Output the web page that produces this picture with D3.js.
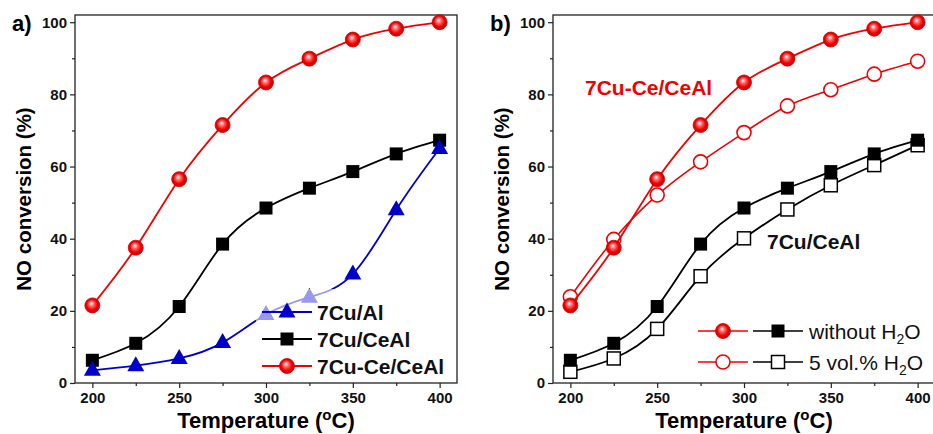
<!DOCTYPE html>
<html>
<head>
<meta charset="utf-8">
<script src="https://cdn.jsdelivr.net/npm/d3@7"></script>
<style>
  body { margin: 0; background: #fff; }
  svg text { font-family: "Liberation Sans", Arial, sans-serif; }
</style>
</head>
<body>
<div id="chart"></div>
<script>
// data (NO conversion, %)
const temps = [200, 225, 250, 275, 300, 325, 350, 375, 400];
const cuAl = [3.5, 4.8, 6.8, 11.2, 19.0, 23.8, 30.2, 48.0, 65.0];
const cuCeAl = [6.3, 11.0, 21.2, 38.5, 48.5, 54.0, 58.6, 63.5, 67.3];
const cuCeCeAl = [21.5, 37.5, 56.5, 71.5, 83.3, 89.9, 95.2, 98.2, 100.0];
const cuCeAlWet = [3.1, 6.8, 15.0, 29.6, 40.1, 48.1, 54.8, 60.4, 65.9];
const cuCeCeAlWet = [23.9, 39.8, 52.1, 61.3, 69.4, 76.8, 81.3, 85.6, 89.2];
const xTicks = [200, 250, 300, 350, 400];
const xMinor = [225, 275, 325, 375];
const yTicks = [0, 20, 40, 60, 80, 100];
const yMinor = [10, 30, 50, 70, 90];

const W = 933, H = 434;
const RED = "#f00000", BLUE = "#0000cc", BLACK = "#000";

const svg = d3.select("#chart").append("svg")
    .attr("width", W).attr("height", H);

// shiny sphere gradient for the filled red circles
const defs = svg.append("defs");
const grad = defs.append("radialGradient").attr("id", "ball")
    .attr("cx", "50%").attr("cy", "50%").attr("r", "55%")
    .attr("fx", "42%").attr("fy", "35%");
grad.append("stop").attr("offset", "0%").attr("stop-color", "#ffffff");
grad.append("stop").attr("offset", "30%").attr("stop-color", "#ff6a6a");
grad.append("stop").attr("offset", "65%").attr("stop-color", "#f00000");
grad.append("stop").attr("offset", "100%").attr("stop-color", "#c00000");

const line = (x, y, vals) => d3.line()
    .x((d, i) => x(temps[i]))
    .y(d => y(d))
    .curve(d3.curveNatural)(vals);

function marker(g, type, cx, cy, color) {
  if (type === "ball") {
    g.append("circle").attr("cx", cx).attr("cy", cy).attr("r", 7.5)
      .attr("fill", "url(#ball)").attr("stroke", "#d00000").attr("stroke-width", 0.8);
  } else if (type === "ring") {
    g.append("circle").attr("cx", cx).attr("cy", cy).attr("r", 7)
      .attr("fill", "#fff").attr("stroke", color).attr("stroke-width", 1.6);
  } else if (type === "square") {
    g.append("rect").attr("x", cx - 6.5).attr("y", cy - 6.5).attr("width", 13).attr("height", 13)
      .attr("fill", BLACK);
  } else if (type === "opensquare") {
    g.append("rect").attr("x", cx - 6.5).attr("y", cy - 6.5).attr("width", 13).attr("height", 13)
      .attr("fill", "#fff").attr("stroke", BLACK).attr("stroke-width", 1.5);
  } else if (type === "tri") {
    g.append("path")
      .attr("d", `M${cx},${cy - 9.5}L${cx + 8.5},${cy + 5.5}L${cx - 8.5},${cy + 5.5}Z`)
      .attr("fill", color);
  }
}

function panel(left, label) {
  const x = d3.scaleLinear().domain([190, 410]).range([left, left + 382]);
  const y = d3.scaleLinear().domain([0, 102]).range([383, 15]);
  const g = svg.append("g");

  // axes
  const xa = g.append("g").attr("transform", "translate(0,383)");
  xa.call(d3.axisBottom(x).tickValues(xTicks).tickSize(5).tickPadding(4));
  xa.append("g").call(d3.axisBottom(x).tickValues(xMinor).tickSize(3).tickFormat(""));
  const ya = g.append("g").attr("transform", `translate(${left},0)`);
  ya.call(d3.axisLeft(y).tickValues(yTicks).tickSize(5).tickPadding(3));
  ya.append("g").call(d3.axisLeft(y).tickValues(yMinor).tickSize(3).tickFormat(""));
  g.selectAll(".domain").remove();
  g.selectAll(".tick line").attr("stroke", "#222").attr("stroke-width", 1.2);
  g.selectAll(".tick text").attr("font-size", 15).attr("font-weight", "bold")
    .attr("fill", "#111").style("font-family", '"Liberation Sans", Arial, sans-serif');

  g.append("rect").attr("x", left).attr("y", 15).attr("width", 382).attr("height", 368)
    .attr("fill", "none").attr("stroke", "#222").attr("stroke-width", 1.3);

  g.append("text").attr("x", (x(200) + x(400)) / 2).attr("y", 428)
    .attr("text-anchor", "middle").attr("font-size", 22).attr("font-weight", "bold")
    .html('Temperature (<tspan dy="-8" font-size="15">o</tspan><tspan dy="8">C)</tspan>');
  g.append("text")
    .attr("transform", `translate(${left - 44},${y(51)}) rotate(-90)`)
    .attr("text-anchor", "middle").attr("font-size", 20.5).attr("font-weight", "bold")
    .text("NO conversion (%)");
  g.append("text").attr("x", left - 63).attr("y", 31)
    .attr("font-size", 22).attr("font-weight", "bold").text(label);
  return { g, x, y };
}

function series(p, vals, color, type, width) {
  p.g.append("path").attr("d", line(p.x, p.y, vals))
    .attr("fill", "none").attr("stroke", color).attr("stroke-width", width || 1.8);
  vals.forEach((v, i) => marker(p.g, type, p.x(temps[i]), p.y(v), color));
}

// ---- panel a
const pa = panel(75, "a)");
series(pa, cuCeCeAl, RED, "ball");
series(pa, cuCeAl, BLACK, "square");
series(pa, cuAl, BLUE, "tri");

// semi-transparent legend background (lightens markers behind it)
pa.g.append("rect").attr("x", 256).attr("y", 289).attr("width", 198).attr("height", 90)
  .attr("fill", "#fff").attr("opacity", 0.6);

const legA = [
  { name: "7Cu/Al", color: BLUE, type: "tri" },
  { name: "7Cu/CeAl", color: BLACK, type: "square" },
  { name: "7Cu-Ce/CeAl", color: RED, type: "ball" }
];
legA.forEach((d, i) => {
  const yy = 312 + i * 27;
  pa.g.append("line").attr("x1", 262).attr("x2", 312).attr("y1", yy).attr("y2", yy)
    .attr("stroke", d.color).attr("stroke-width", 1.8);
  marker(pa.g, d.type, 287, yy, d.color);
  pa.g.append("text").attr("x", 317).attr("y", yy + 8)
    .attr("font-size", 21).attr("font-weight", "bold").attr("fill", "#111").text(d.name);
});

// ---- panel b
const pb = panel(553, "b)");
series(pb, cuCeCeAlWet, RED, "ring", 1.6);
series(pb, cuCeCeAl, RED, "ball");
series(pb, cuCeAlWet, BLACK, "opensquare");
series(pb, cuCeAl, BLACK, "square");

pb.g.append("text").attr("x", 585).attr("y", 95).attr("font-size", 21)
  .attr("font-weight", "bold").attr("fill", RED).text("7Cu-Ce/CeAl");
pb.g.append("text").attr("x", 767).attr("y", 249).attr("font-size", 21)
  .attr("font-weight", "bold").attr("fill", "#111").text("7Cu/CeAl");

const legB = [
  { red: "ball", black: "square", label: 'without H<tspan dy="5" font-size="14">2</tspan><tspan dy="-5">O</tspan>' },
  { red: "ring", black: "opensquare", label: '5 vol.% H<tspan dy="5" font-size="14">2</tspan><tspan dy="-5">O</tspan>' }
];
legB.forEach((d, i) => {
  const yy = 331 + i * 31;
  pb.g.append("line").attr("x1", 698).attr("x2", 748).attr("y1", yy).attr("y2", yy)
    .attr("stroke", RED).attr("stroke-width", 1.6);
  marker(pb.g, d.red, 723, yy, RED);
  pb.g.append("line").attr("x1", 753).attr("x2", 803).attr("y1", yy).attr("y2", yy)
    .attr("stroke", BLACK).attr("stroke-width", 1.6);
  marker(pb.g, d.black, 778, yy, BLACK);
  pb.g.append("text").attr("x", 809).attr("y", yy + 8)
    .attr("font-size", 21).attr("fill", "#111").html(d.label);
});
</script>
</body>
</html>
